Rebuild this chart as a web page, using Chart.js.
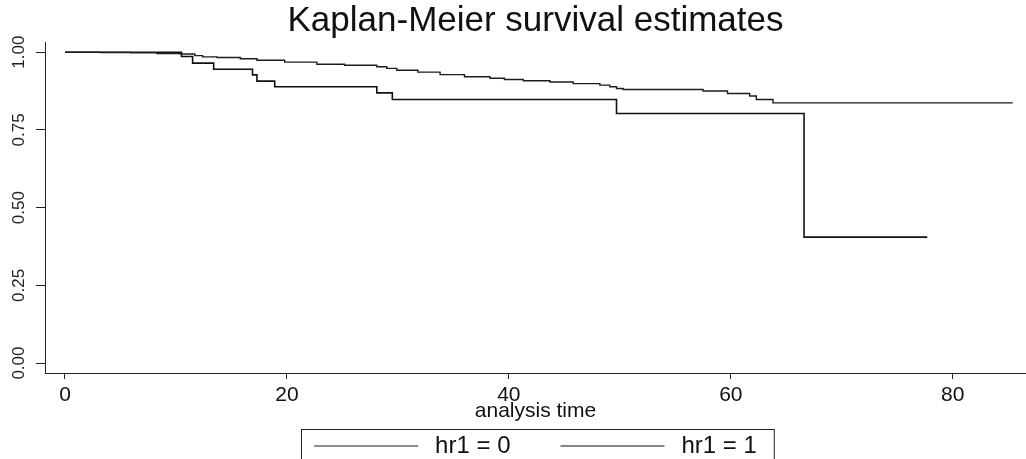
<!DOCTYPE html>
<html>
<head>
<meta charset="utf-8">
<script src="https://cdn.jsdelivr.net/npm/chart.js@4"></script>
<style>
  html, body { margin: 0; padding: 0; background: #fff; }
  #wrap { width: 1026px; height: 459px; }
</style>
</head>
<body>
<div id="wrap"><canvas id="kmChart"></canvas></div>
<script>
// survival curves (time, S(t))
const timesHr0 = [0, 3.2, 5.9, 8.3, 10.4, 11.7, 12.4, 13.7, 15.8, 17.3, 19.8, 22.7, 25.2, 28.1, 29.0, 29.9, 31.8, 33.8, 36.0, 38.3, 39.6, 41.3, 43.7, 45.8, 48.2, 49.1, 49.7, 50.3, 57.5, 59.7, 61.7, 62.3, 63.8, 85.4];
const survHr0 = [1.000, 0.999, 0.998, 0.996, 0.994, 0.989, 0.985, 0.983, 0.979, 0.974, 0.968, 0.961, 0.958, 0.953, 0.948, 0.942, 0.936, 0.928, 0.921, 0.916, 0.912, 0.908, 0.904, 0.899, 0.894, 0.889, 0.883, 0.880, 0.875, 0.867, 0.859, 0.848, 0.837, 0.837];

const timesHr1 = [0, 10.5, 11.5, 13.4, 16.9, 17.3, 18.9, 28.1, 29.5, 49.7, 66.6, 77.7];
const survHr1 = [1.000, 0.986, 0.965, 0.945, 0.927, 0.907, 0.889, 0.869, 0.848, 0.803, 0.405, 0.405];

const seriesLabels = ['hr1 = 0', 'hr1 = 1'];
const xTicks = [0, 20, 40, 60, 80];
const yTicks = [0, 0.25, 0.5, 0.75, 1];

const toPoints = (xs, ys) => xs.map((t, i) => ({ x: t, y: ys[i] }));

// stata-style boxed legend under the axis title
const boxedLegend = {
  id: 'boxedLegend',
  afterDraw(chart) {
    const ctx = chart.ctx;
    const area = chart.chartArea;
    const lineLen = 104, gap = 17, itemGap = 50;
    ctx.save();
    ctx.font = '24px "Liberation Sans", Arial, sans-serif';
    const widths = chart.data.datasets.map(d => ctx.measureText(d.label).width);
    const total = 2 * (lineLen + gap) + widths[0] + widths[1] + itemGap;
    let x = (area.left + area.right) / 2 - total / 2;
    const y = chart.height - 13;
    ctx.strokeStyle = '#222';
    ctx.lineWidth = 1;
    ctx.strokeRect(Math.round(x - 13) + 0.5, chart.height - 30 + 0.5, total + 30, 40);
    ctx.fillStyle = '#111';
    ctx.textBaseline = 'middle';
    chart.data.datasets.forEach((d, i) => {
      ctx.strokeStyle = d.borderColor;
      ctx.lineWidth = 1.2;
      ctx.beginPath();
      ctx.moveTo(x, y);
      ctx.lineTo(x + lineLen, y);
      ctx.stroke();
      x += lineLen + gap;
      ctx.fillText(d.label, x, y);
      x += widths[i] + itemGap;
    });
    ctx.restore();
  }
};

const ctx = document.getElementById('kmChart').getContext('2d');

new Chart(ctx, {
  type: 'line',
  data: {
    datasets: [
      {
        label: seriesLabels[0],
        data: toPoints(timesHr0, survHr0),
        stepped: true,
        borderColor: '#1c1c1c',
        borderWidth: 1.4,
        pointRadius: 0,
        fill: false
      },
      {
        label: seriesLabels[1],
        data: toPoints(timesHr1, survHr1),
        stepped: true,
        borderColor: '#111',
        borderWidth: 1.6,
        pointRadius: 0,
        fill: false
      }
    ]
  },
  options: {
    responsive: true,
    maintainAspectRatio: false,
    animation: false,
    layout: { padding: 0 },
    plugins: {
      legend: { display: false },
      tooltip: { enabled: false },
      title: {
        display: true,
        text: 'Kaplan-Meier survival estimates',
        fullSize: false,
        color: '#111',
        font: { family: '"Liberation Sans", Arial, sans-serif', size: 35, weight: 'normal', lineHeight: 1.15 },
        padding: { top: 1, bottom: 1 }
      }
    },
    scales: {
      x: {
        type: 'linear',
        min: -1.8,
        max: 86.6,
        afterBuildTicks: scale => { scale.ticks = xTicks.map(v => ({ value: v })); },
        afterFit: scale => { scale.height = 86; },
        ticks: {
          color: '#111',
          padding: 4,
          maxRotation: 0,
          font: { family: '"Liberation Sans", Arial, sans-serif', size: 21 },
          callback: v => String(v)
        },
        grid: { drawOnChartArea: false, drawTicks: true, tickLength: 6, color: '#222' },
        border: { display: true, color: '#222', width: 1 },
        title: {
          display: true,
          text: 'analysis time',
          color: '#111',
          font: { family: '"Liberation Sans", Arial, sans-serif', size: 21 },
          padding: { top: 0, bottom: 35 }
        }
      },
      y: {
        min: -0.032,
        max: 1.032,
        afterBuildTicks: scale => { scale.ticks = yTicks.map(v => ({ value: v })); },
        afterFit: scale => { scale.width = 45; },
        ticks: {
          color: '#222',
          padding: 0,
          minRotation: 90,
          maxRotation: 90,
          crossAlign: 'center',
          font: { family: '"Liberation Sans", Arial, sans-serif', size: 17 },
          callback: v => v.toFixed(2)
        },
        grid: { drawOnChartArea: false, drawTicks: true, tickLength: 9, color: '#222' },
        border: { display: true, color: '#222', width: 1 }
      }
    }
  },
  plugins: [boxedLegend]
});
</script>
</body>
</html>
